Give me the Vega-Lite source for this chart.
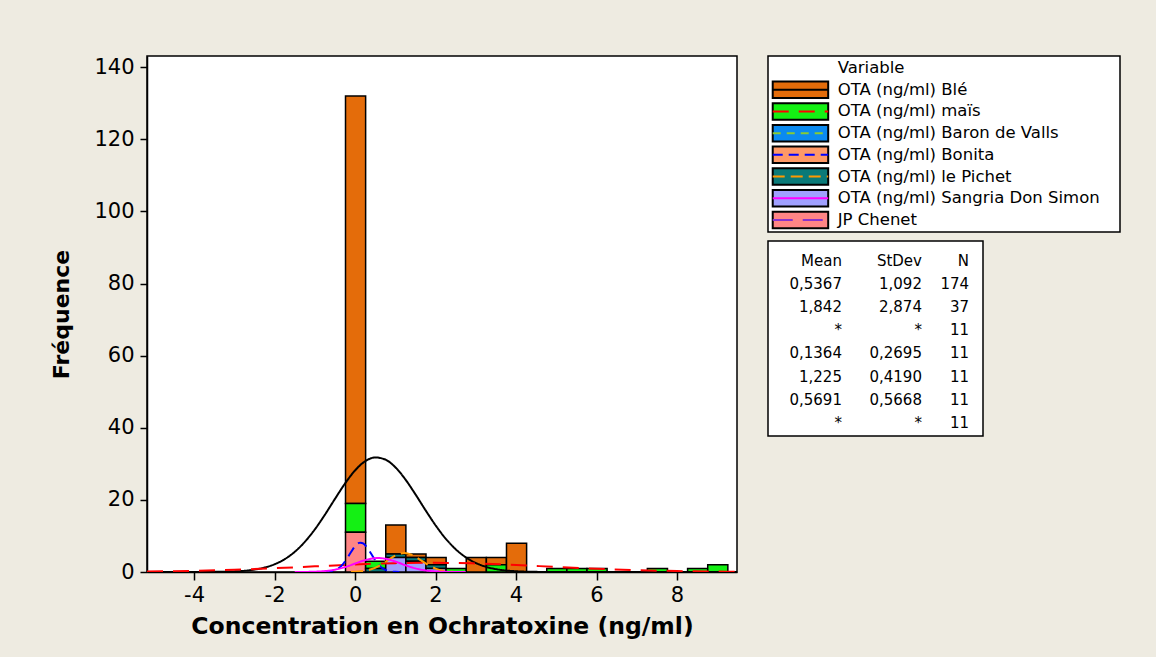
{
  "$schema": "https://vega.github.io/schema/vega-lite/v6.json",
  "background": "#EEEBE1",
  "padding": {"left": 50, "top": 55, "right": 36, "bottom": 24},
  "config": {
    "view": {"fill": "white", "stroke": "black", "strokeWidth": 1.5},
    "font": "DejaVu Sans",
    "axis": {"grid": false, "domainColor": "black", "domainWidth": 1.5, "tickColor": "black", "tickWidth": 1.5, "labelColor": "black", "titleColor": "black"}
  },
  "datasets": {
    "bars": [
      {"Variable": "OTA (ng/ml) Blé", "var_no": 1, "bin_start": -0.25, "bin_end": 0.25, "count": 113},
      {"Variable": "OTA (ng/ml) maïs", "var_no": 2, "bin_start": -0.25, "bin_end": 0.25, "count": 8},
      {"Variable": "JP Chenet", "var_no": 7, "bin_start": -0.25, "bin_end": 0.25, "count": 11},
      {"Variable": "OTA (ng/ml) maïs", "var_no": 2, "bin_start": 0.25, "bin_end": 0.75, "count": 2},
      {"Variable": "OTA (ng/ml) le Pichet", "var_no": 5, "bin_start": 0.25, "bin_end": 0.75, "count": 1},
      {"Variable": "OTA (ng/ml) Blé", "var_no": 1, "bin_start": 0.75, "bin_end": 1.25, "count": 8},
      {"Variable": "OTA (ng/ml) le Pichet", "var_no": 5, "bin_start": 0.75, "bin_end": 1.25, "count": 1},
      {"Variable": "OTA (ng/ml) Sangria Don Simon", "var_no": 6, "bin_start": 0.75, "bin_end": 1.25, "count": 4},
      {"Variable": "OTA (ng/ml) Blé", "var_no": 1, "bin_start": 1.25, "bin_end": 1.75, "count": 1},
      {"Variable": "OTA (ng/ml) le Pichet", "var_no": 5, "bin_start": 1.25, "bin_end": 1.75, "count": 1},
      {"Variable": "OTA (ng/ml) Sangria Don Simon", "var_no": 6, "bin_start": 1.25, "bin_end": 1.75, "count": 3},
      {"Variable": "OTA (ng/ml) Blé", "var_no": 1, "bin_start": 1.75, "bin_end": 2.25, "count": 2},
      {"Variable": "OTA (ng/ml) le Pichet", "var_no": 5, "bin_start": 1.75, "bin_end": 2.25, "count": 1},
      {"Variable": "OTA (ng/ml) Sangria Don Simon", "var_no": 6, "bin_start": 1.75, "bin_end": 2.25, "count": 1},
      {"Variable": "OTA (ng/ml) maïs", "var_no": 2, "bin_start": 2.25, "bin_end": 2.75, "count": 1},
      {"Variable": "OTA (ng/ml) Blé", "var_no": 1, "bin_start": 2.75, "bin_end": 3.25, "count": 4},
      {"Variable": "OTA (ng/ml) Blé", "var_no": 1, "bin_start": 3.25, "bin_end": 3.75, "count": 2},
      {"Variable": "OTA (ng/ml) maïs", "var_no": 2, "bin_start": 3.25, "bin_end": 3.75, "count": 2},
      {"Variable": "OTA (ng/ml) Blé", "var_no": 1, "bin_start": 3.75, "bin_end": 4.25, "count": 8},
      {"Variable": "OTA (ng/ml) maïs", "var_no": 2, "bin_start": 4.75, "bin_end": 5.25, "count": 1},
      {"Variable": "OTA (ng/ml) maïs", "var_no": 2, "bin_start": 5.25, "bin_end": 5.75, "count": 1},
      {"Variable": "OTA (ng/ml) maïs", "var_no": 2, "bin_start": 5.75, "bin_end": 6.25, "count": 1},
      {"Variable": "OTA (ng/ml) maïs", "var_no": 2, "bin_start": 7.25, "bin_end": 7.75, "count": 1},
      {"Variable": "OTA (ng/ml) maïs", "var_no": 2, "bin_start": 8.25, "bin_end": 8.75, "count": 1},
      {"Variable": "OTA (ng/ml) maïs", "var_no": 2, "bin_start": 8.75, "bin_end": 9.25, "count": 2}
    ],
    "curves": [
      {"Variable": "OTA (ng/ml) Blé", "x": -5.17, "y": 0},
      {"Variable": "OTA (ng/ml) Blé", "x": -4, "y": 0.002},
      {"Variable": "OTA (ng/ml) Blé", "x": -3.5, "y": 0.034},
      {"Variable": "OTA (ng/ml) Blé", "x": -3, "y": 0.17},
      {"Variable": "OTA (ng/ml) Blé", "x": -2.75, "y": 0.34},
      {"Variable": "OTA (ng/ml) Blé", "x": -2.5, "y": 0.67},
      {"Variable": "OTA (ng/ml) Blé", "x": -2.25, "y": 1.23},
      {"Variable": "OTA (ng/ml) Blé", "x": -2, "y": 2.14},
      {"Variable": "OTA (ng/ml) Blé", "x": -1.75, "y": 3.55},
      {"Variable": "OTA (ng/ml) Blé", "x": -1.5, "y": 5.59},
      {"Variable": "OTA (ng/ml) Blé", "x": -1.25, "y": 8.34},
      {"Variable": "OTA (ng/ml) Blé", "x": -1, "y": 11.81},
      {"Variable": "OTA (ng/ml) Blé", "x": -0.75, "y": 15.88},
      {"Variable": "OTA (ng/ml) Blé", "x": -0.5, "y": 20.27},
      {"Variable": "OTA (ng/ml) Blé", "x": -0.25, "y": 24.53},
      {"Variable": "OTA (ng/ml) Blé", "x": 0, "y": 28.17},
      {"Variable": "OTA (ng/ml) Blé", "x": 0.25, "y": 30.71},
      {"Variable": "OTA (ng/ml) Blé", "x": 0.5, "y": 31.77},
      {"Variable": "OTA (ng/ml) Blé", "x": 0.75, "y": 31.19},
      {"Variable": "OTA (ng/ml) Blé", "x": 1, "y": 29.05},
      {"Variable": "OTA (ng/ml) Blé", "x": 1.25, "y": 25.68},
      {"Variable": "OTA (ng/ml) Blé", "x": 1.5, "y": 21.54},
      {"Variable": "OTA (ng/ml) Blé", "x": 1.75, "y": 17.15},
      {"Variable": "OTA (ng/ml) Blé", "x": 2, "y": 12.95},
      {"Variable": "OTA (ng/ml) Blé", "x": 2.25, "y": 9.28},
      {"Variable": "OTA (ng/ml) Blé", "x": 2.5, "y": 6.32},
      {"Variable": "OTA (ng/ml) Blé", "x": 2.75, "y": 4.08},
      {"Variable": "OTA (ng/ml) Blé", "x": 3, "y": 2.5},
      {"Variable": "OTA (ng/ml) Blé", "x": 3.25, "y": 1.45},
      {"Variable": "OTA (ng/ml) Blé", "x": 3.5, "y": 0.8},
      {"Variable": "OTA (ng/ml) Blé", "x": 3.75, "y": 0.42},
      {"Variable": "OTA (ng/ml) Blé", "x": 4, "y": 0.21},
      {"Variable": "OTA (ng/ml) Blé", "x": 4.5, "y": 0.04},
      {"Variable": "OTA (ng/ml) Blé", "x": 5, "y": 0.005},
      {"Variable": "OTA (ng/ml) Blé", "x": 9.49, "y": 0},
      {"Variable": "OTA (ng/ml) maïs", "x": -5.17, "y": 0.13},
      {"Variable": "OTA (ng/ml) maïs", "x": -4, "y": 0.33},
      {"Variable": "OTA (ng/ml) maïs", "x": -3, "y": 0.62},
      {"Variable": "OTA (ng/ml) maïs", "x": -2, "y": 1.05},
      {"Variable": "OTA (ng/ml) maïs", "x": -1, "y": 1.57},
      {"Variable": "OTA (ng/ml) maïs", "x": 0, "y": 2.09},
      {"Variable": "OTA (ng/ml) maïs", "x": 1, "y": 2.46},
      {"Variable": "OTA (ng/ml) maïs", "x": 1.842, "y": 2.57},
      {"Variable": "OTA (ng/ml) maïs", "x": 2.5, "y": 2.5},
      {"Variable": "OTA (ng/ml) maïs", "x": 3, "y": 2.37},
      {"Variable": "OTA (ng/ml) maïs", "x": 4, "y": 1.94},
      {"Variable": "OTA (ng/ml) maïs", "x": 5, "y": 1.4},
      {"Variable": "OTA (ng/ml) maïs", "x": 6, "y": 0.9},
      {"Variable": "OTA (ng/ml) maïs", "x": 7, "y": 0.51},
      {"Variable": "OTA (ng/ml) maïs", "x": 8, "y": 0.26},
      {"Variable": "OTA (ng/ml) maïs", "x": 9, "y": 0.115},
      {"Variable": "OTA (ng/ml) maïs", "x": 9.49, "y": 0.074},
      {"Variable": "OTA (ng/ml) Bonita", "x": -0.8, "y": 0.02},
      {"Variable": "OTA (ng/ml) Bonita", "x": -0.7, "y": 0.066},
      {"Variable": "OTA (ng/ml) Bonita", "x": -0.6, "y": 0.19},
      {"Variable": "OTA (ng/ml) Bonita", "x": -0.5, "y": 0.5},
      {"Variable": "OTA (ng/ml) Bonita", "x": -0.4, "y": 1.12},
      {"Variable": "OTA (ng/ml) Bonita", "x": -0.3, "y": 2.19},
      {"Variable": "OTA (ng/ml) Bonita", "x": -0.2, "y": 3.73},
      {"Variable": "OTA (ng/ml) Bonita", "x": -0.1, "y": 5.54},
      {"Variable": "OTA (ng/ml) Bonita", "x": 0, "y": 7.16},
      {"Variable": "OTA (ng/ml) Bonita", "x": 0.1, "y": 8.07},
      {"Variable": "OTA (ng/ml) Bonita", "x": 0.1364, "y": 8.14},
      {"Variable": "OTA (ng/ml) Bonita", "x": 0.2, "y": 7.92},
      {"Variable": "OTA (ng/ml) Bonita", "x": 0.3, "y": 6.77},
      {"Variable": "OTA (ng/ml) Bonita", "x": 0.4, "y": 5.05},
      {"Variable": "OTA (ng/ml) Bonita", "x": 0.5, "y": 3.28},
      {"Variable": "OTA (ng/ml) Bonita", "x": 0.6, "y": 1.85},
      {"Variable": "OTA (ng/ml) Bonita", "x": 0.7, "y": 0.91},
      {"Variable": "OTA (ng/ml) Bonita", "x": 0.8, "y": 0.39},
      {"Variable": "OTA (ng/ml) Bonita", "x": 0.9, "y": 0.15},
      {"Variable": "OTA (ng/ml) Bonita", "x": 1.0, "y": 0.05},
      {"Variable": "OTA (ng/ml) Bonita", "x": 1.1, "y": 0.01},
      {"Variable": "OTA (ng/ml) le Pichet", "x": -0.1, "y": 0.035},
      {"Variable": "OTA (ng/ml) le Pichet", "x": 0, "y": 0.073},
      {"Variable": "OTA (ng/ml) le Pichet", "x": 0.2, "y": 0.26},
      {"Variable": "OTA (ng/ml) le Pichet", "x": 0.4, "y": 0.75},
      {"Variable": "OTA (ng/ml) le Pichet", "x": 0.6, "y": 1.72},
      {"Variable": "OTA (ng/ml) le Pichet", "x": 0.8, "y": 3.13},
      {"Variable": "OTA (ng/ml) le Pichet", "x": 1.0, "y": 4.54},
      {"Variable": "OTA (ng/ml) le Pichet", "x": 1.225, "y": 5.24},
      {"Variable": "OTA (ng/ml) le Pichet", "x": 1.4, "y": 4.8},
      {"Variable": "OTA (ng/ml) le Pichet", "x": 1.6, "y": 3.51},
      {"Variable": "OTA (ng/ml) le Pichet", "x": 1.8, "y": 2.05},
      {"Variable": "OTA (ng/ml) le Pichet", "x": 2.0, "y": 0.95},
      {"Variable": "OTA (ng/ml) le Pichet", "x": 2.2, "y": 0.35},
      {"Variable": "OTA (ng/ml) le Pichet", "x": 2.4, "y": 0.1},
      {"Variable": "OTA (ng/ml) le Pichet", "x": 2.6, "y": 0.024},
      {"Variable": "OTA (ng/ml) le Pichet", "x": 2.8, "y": 0.004},
      {"Variable": "OTA (ng/ml) Sangria Don Simon", "x": -1.5, "y": 0.005},
      {"Variable": "OTA (ng/ml) Sangria Don Simon", "x": -1.25, "y": 0.022},
      {"Variable": "OTA (ng/ml) Sangria Don Simon", "x": -1, "y": 0.084},
      {"Variable": "OTA (ng/ml) Sangria Don Simon", "x": -0.75, "y": 0.26},
      {"Variable": "OTA (ng/ml) Sangria Don Simon", "x": -0.5, "y": 0.65},
      {"Variable": "OTA (ng/ml) Sangria Don Simon", "x": -0.25, "y": 1.36},
      {"Variable": "OTA (ng/ml) Sangria Don Simon", "x": 0, "y": 2.34},
      {"Variable": "OTA (ng/ml) Sangria Don Simon", "x": 0.25, "y": 3.3},
      {"Variable": "OTA (ng/ml) Sangria Don Simon", "x": 0.5, "y": 3.84},
      {"Variable": "OTA (ng/ml) Sangria Don Simon", "x": 0.5691, "y": 3.87},
      {"Variable": "OTA (ng/ml) Sangria Don Simon", "x": 0.75, "y": 3.68},
      {"Variable": "OTA (ng/ml) Sangria Don Simon", "x": 1, "y": 2.9},
      {"Variable": "OTA (ng/ml) Sangria Don Simon", "x": 1.25, "y": 1.88},
      {"Variable": "OTA (ng/ml) Sangria Don Simon", "x": 1.5, "y": 1.0},
      {"Variable": "OTA (ng/ml) Sangria Don Simon", "x": 1.75, "y": 0.44},
      {"Variable": "OTA (ng/ml) Sangria Don Simon", "x": 2, "y": 0.16},
      {"Variable": "OTA (ng/ml) Sangria Don Simon", "x": 2.25, "y": 0.048},
      {"Variable": "OTA (ng/ml) Sangria Don Simon", "x": 2.5, "y": 0.012},
      {"Variable": "OTA (ng/ml) Sangria Don Simon", "x": 2.75, "y": 0.002}
    ],
    "series": [
      {"Variable": "OTA (ng/ml) Blé", "Mean": "0,5367", "StDev": "1,092", "N": "174"},
      {"Variable": "OTA (ng/ml) maïs", "Mean": "1,842", "StDev": "2,874", "N": "37"},
      {"Variable": "OTA (ng/ml) Baron de Valls", "Mean": "*", "StDev": "*", "N": "11"},
      {"Variable": "OTA (ng/ml) Bonita", "Mean": "0,1364", "StDev": "0,2695", "N": "11"},
      {"Variable": "OTA (ng/ml) le Pichet", "Mean": "1,225", "StDev": "0,4190", "N": "11"},
      {"Variable": "OTA (ng/ml) Sangria Don Simon", "Mean": "0,5691", "StDev": "0,5668", "N": "11"},
      {"Variable": "JP Chenet", "Mean": "*", "StDev": "*", "N": "11"}
    ]
  },
  "spacing": 29,
  "hconcat": [
    {
      "width": 590,
      "height": 516,
      "layer": [
        {
          "data": {"name": "bars"},
          "mark": {"type": "bar", "stroke": "black", "strokeWidth": 1.5, "binSpacing": 0},
          "encoding": {
            "x": {"field": "bin_start", "type": "quantitative", "bin": "binned",
                  "scale": {"domain": [-5.17, 9.49], "nice": false, "zero": false},
                  "axis": {"values": [-4, -2, 0, 2, 4, 6, 8], "title": "Concentration en Ochratoxine (ng/ml)",
                           "labelExpr": "replace(datum.label, '−', '-')",
                           "labelFontSize": 21, "tickSize": 8, "labelPadding": 4,
                           "titleFont": "DejaVu Sans", "titleFontWeight": "bold", "titleFontSize": 23.5, "titlePadding": 9}},
            "x2": {"field": "bin_end"},
            "y": {"field": "count", "type": "quantitative", "stack": "zero",
                  "scale": {"domain": [0, 143.1], "nice": false},
                  "axis": {"values": [0, 20, 40, 60, 80, 100, 120, 140], "title": "Fréquence",
                           "labelFontSize": 21, "tickSize": 7, "labelPadding": 6,
                           "titleFont": "DejaVu Sans", "titleFontWeight": "bold", "titleFontSize": 22, "titlePadding": 20}},
            "fill": {"field": "Variable", "type": "nominal", "legend": null,
                     "scale": {"domain": ["OTA (ng/ml) Blé", "OTA (ng/ml) maïs", "OTA (ng/ml) Baron de Valls", "OTA (ng/ml) Bonita", "OTA (ng/ml) le Pichet", "OTA (ng/ml) Sangria Don Simon", "JP Chenet"],
                               "range": ["#E46C0A", "#14F014", "#0B8AF0", "#FF9966", "#0A7A78", "#A0A0FF", "#FF8585"]}},
            "order": {"field": "var_no", "type": "quantitative", "sort": "descending"}
          }
        },
        {
          "data": {"name": "curves"},
          "mark": {"type": "line", "interpolate": "monotone", "clip": true, "strokeWidth": 2},
          "encoding": {
            "x": {"field": "x", "type": "quantitative"},
            "y": {"field": "y", "type": "quantitative"},
            "stroke": {"field": "Variable", "type": "nominal", "legend": null,
                       "scale": {"domain": ["OTA (ng/ml) Blé", "OTA (ng/ml) maïs", "OTA (ng/ml) Baron de Valls", "OTA (ng/ml) Bonita", "OTA (ng/ml) le Pichet", "OTA (ng/ml) Sangria Don Simon", "JP Chenet"],
                                 "range": ["#000000", "#FF0000", "#88CC33", "#0000FF", "#FF9900", "#FF00FF", "#8833CC"]}},
            "strokeDash": {"field": "Variable", "type": "nominal", "legend": null,
                       "scale": {"domain": ["OTA (ng/ml) Blé", "OTA (ng/ml) maïs", "OTA (ng/ml) Baron de Valls", "OTA (ng/ml) Bonita", "OTA (ng/ml) le Pichet", "OTA (ng/ml) Sangria Don Simon", "JP Chenet"],
                                 "range": [[1, 0], [16, 10], [8, 6], [10, 6], [12, 6], [1, 0], [20, 10]]}},
            "strokeWidth": {"field": "Variable", "type": "nominal", "legend": null,
                       "scale": {"domain": ["OTA (ng/ml) Blé", "OTA (ng/ml) maïs", "OTA (ng/ml) Baron de Valls", "OTA (ng/ml) Bonita", "OTA (ng/ml) le Pichet", "OTA (ng/ml) Sangria Don Simon", "JP Chenet"],
                                 "range": [1.5, 2.5, 2, 3, 3, 2, 2]}}
          }
        }
      ]
    },
    {
      "spacing": 7,
      "vconcat": [
        {
          "width": 352,
          "height": 176,
          "data": {"name": "series"},
          "layer": [
            {
              "data": {"values": [{"Variable": "Variable"}]},
              "mark": {"type": "text", "align": "left", "fontSize": 16.5, "color": "black"},
              "encoding": {
                "x": {"datum": 0.198, "type": "quantitative", "scale": {"domain": [0, 1]}, "axis": null},
                "y": {"field": "Variable", "type": "nominal", "axis": null,
                      "scale": {"type": "band", "domain": ["Variable", "OTA (ng/ml) Blé", "OTA (ng/ml) maïs", "OTA (ng/ml) Baron de Valls", "OTA (ng/ml) Bonita", "OTA (ng/ml) le Pichet", "OTA (ng/ml) Sangria Don Simon", "JP Chenet"], "paddingInner": 0.24, "paddingOuter": 0.175}},
                "text": {"field": "Variable"}
              }
            },
            {
              "mark": {"type": "rect", "stroke": "black", "strokeWidth": 2},
              "encoding": {
                "x": {"datum": 0.0134, "type": "quantitative"},
                "x2": {"datum": 0.171},
                "y": {"field": "Variable", "type": "nominal"},
                "fill": {"field": "Variable", "type": "nominal", "legend": null,
                         "scale": {"domain": ["OTA (ng/ml) Blé", "OTA (ng/ml) maïs", "OTA (ng/ml) Baron de Valls", "OTA (ng/ml) Bonita", "OTA (ng/ml) le Pichet", "OTA (ng/ml) Sangria Don Simon", "JP Chenet"],
                                   "range": ["#E46C0A", "#14F014", "#0B8AF0", "#FF9966", "#0A7A78", "#A0A0FF", "#FF8585"]}}
              }
            },
            {
              "mark": {"type": "rule", "strokeWidth": 2},
              "encoding": {
                "x": {"datum": 0.0134, "type": "quantitative"},
                "x2": {"datum": 0.171},
                "y": {"field": "Variable", "type": "nominal"},
                "stroke": {"field": "Variable", "type": "nominal", "legend": null,
                           "scale": {"domain": ["OTA (ng/ml) Blé", "OTA (ng/ml) maïs", "OTA (ng/ml) Baron de Valls", "OTA (ng/ml) Bonita", "OTA (ng/ml) le Pichet", "OTA (ng/ml) Sangria Don Simon", "JP Chenet"],
                                     "range": ["#000000", "#FF0000", "#88CC33", "#0000FF", "#FF9900", "#FF00FF", "#8833CC"]}},
                "strokeDash": {"field": "Variable", "type": "nominal", "legend": null,
                           "scale": {"domain": ["OTA (ng/ml) Blé", "OTA (ng/ml) maïs", "OTA (ng/ml) Baron de Valls", "OTA (ng/ml) Bonita", "OTA (ng/ml) le Pichet", "OTA (ng/ml) Sangria Don Simon", "JP Chenet"],
                                     "range": [[1, 0], [16, 18], [8, 6], [30, 6], [22, 6], [1, 0], [14, 18]]}}
              }
            },
            {
              "mark": {"type": "text", "align": "left", "fontSize": 16.5, "color": "black"},
              "encoding": {
                "x": {"datum": 0.198, "type": "quantitative"},
                "y": {"field": "Variable", "type": "nominal"},
                "text": {"field": "Variable"}
              }
            }
          ]
        },
        {
          "width": 215,
          "height": 195,
          "data": {"name": "series"},
          "encoding": {
            "y": {"field": "Variable", "type": "nominal", "axis": null,
                  "scale": {"type": "point", "domain": ["header", "OTA (ng/ml) Blé", "OTA (ng/ml) maïs", "OTA (ng/ml) Baron de Valls", "OTA (ng/ml) Bonita", "OTA (ng/ml) le Pichet", "OTA (ng/ml) Sangria Don Simon", "JP Chenet"], "padding": 0.7, "align": 0.6}}
          },
          "layer": [
            {
              "data": {"values": [{"Variable": "header", "Mean": "Mean", "StDev": "StDev", "N": "N"}]},
              "mark": {"type": "text", "align": "right", "fontSize": 15, "color": "black"},
              "encoding": {
                "x": {"datum": 0.344, "type": "quantitative", "scale": {"domain": [0, 1]}, "axis": null},
                "text": {"field": "Mean"}
              }
            },
            {
              "data": {"values": [{"Variable": "header", "Mean": "Mean", "StDev": "StDev", "N": "N"}]},
              "mark": {"type": "text", "align": "right", "fontSize": 15, "color": "black"},
              "encoding": {"x": {"datum": 0.716, "type": "quantitative"}, "text": {"field": "StDev"}}
            },
            {
              "data": {"values": [{"Variable": "header", "Mean": "Mean", "StDev": "StDev", "N": "N"}]},
              "mark": {"type": "text", "align": "right", "fontSize": 15, "color": "black"},
              "encoding": {"x": {"datum": 0.935, "type": "quantitative"}, "text": {"field": "N"}}
            },
            {
              "mark": {"type": "text", "align": "right", "fontSize": 15, "color": "black"},
              "encoding": {"x": {"datum": 0.344, "type": "quantitative"}, "text": {"field": "Mean"}}
            },
            {
              "mark": {"type": "text", "align": "right", "fontSize": 15, "color": "black"},
              "encoding": {"x": {"datum": 0.716, "type": "quantitative"}, "text": {"field": "StDev"}}
            },
            {
              "mark": {"type": "text", "align": "right", "fontSize": 15, "color": "black"},
              "encoding": {"x": {"datum": 0.935, "type": "quantitative"}, "text": {"field": "N"}}
            }
          ]
        }
      ]
    }
  ]
}
